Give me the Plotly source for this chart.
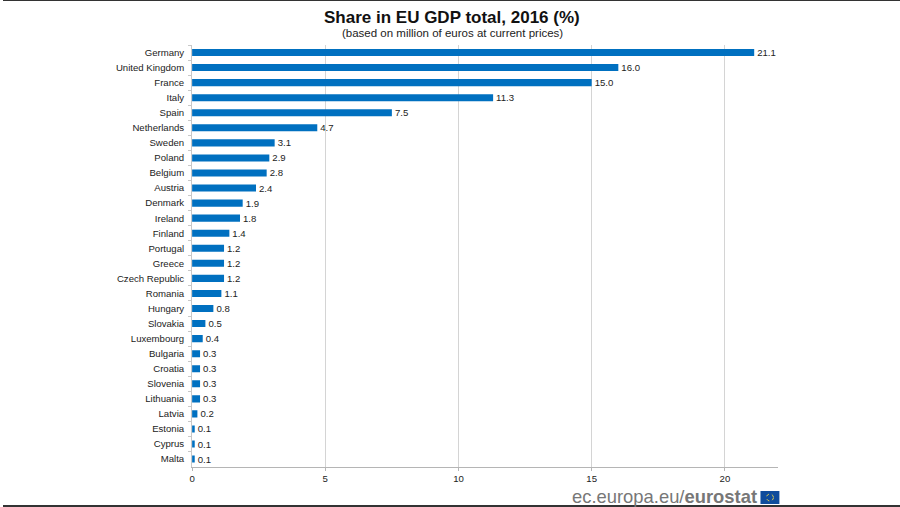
import plotly.graph_objects as go

countries = ["Germany","United Kingdom","France","Italy","Spain","Netherlands","Sweden","Poland","Belgium","Austria","Denmark","Ireland","Finland","Portugal","Greece","Czech Republic","Romania","Hungary","Slovakia","Luxembourg","Bulgaria","Croatia","Slovenia","Lithuania","Latvia","Estonia","Cyprus","Malta"]
shares = [21.1,16.0,15.0,11.3,7.5,4.7,3.1,2.9,2.8,2.4,1.9,1.8,1.4,1.2,1.2,1.2,1.1,0.8,0.5,0.4,0.3,0.3,0.3,0.3,0.2,0.1,0.1,0.1]
labels = [f"{v:.1f}" for v in shares]
ticks = [0,5,10,15,20]

fig = go.Figure(go.Bar(y=countries, x=shares, orientation="h",
    marker=dict(color="#0070c0", line=dict(width=8, color="rgba(0,0,0,0)")),
    width=0.47, text=labels, textposition="outside", cliponaxis=False, constraintext="none",
    textfont=dict(family="Liberation Sans", size=9.6, color="#222222")))
fig.update_layout(width=900, height=507, margin=dict(l=0,r=0,t=0,b=0), paper_bgcolor="white", plot_bgcolor="white",
    showlegend=False, font=dict(family="Liberation Sans", color="#222222", size=9.6),
    xaxis=dict(domain=[189.7/900, 777.5/900], range=[0,21.99], tickvals=ticks, gridcolor="#d4d4d4", gridwidth=1,
        showline=True, linecolor="#b5b5b5", ticks="outside", ticklen=3, tickcolor="#b5b5b5", zeroline=False),
    yaxis=dict(domain=[1-466.6/507, 1-45/507], autorange="reversed", categoryorder="array", categoryarray=countries,
        tickmode="array", tickvals=countries, showline=True, linecolor="#c8c8c8", ticks="outside", tickson="boundaries",
        ticklen=3, tickcolor="#c8c8c8", ticklabelstandoff=5, showgrid=False),
    annotations=[
        dict(text="<b>Share in EU GDP total, 2016 (%)</b>", x=451/900, y=1-18/507, xref="paper", yref="paper", xanchor="center", yanchor="middle", showarrow=False, font=dict(size=17, color="#111111")),
        dict(text="(based on million of euros at current prices)", x=451/900, y=1-33/507, xref="paper", yref="paper", xanchor="center", yanchor="middle", showarrow=False, font=dict(size=11.5, color="#222222")),
        dict(text="ec.europa.eu/<b>eurostat</b>", x=759/900, y=1-496/507, xref="paper", yref="paper", xanchor="right", yanchor="middle", showarrow=False, font=dict(size=18.4, color="#777777")),
    ],
    shapes=[
        dict(type="rect", xref="paper", yref="paper", x0=760/900, x1=779/900, y0=1-504/507, y1=1-491/507, fillcolor="#0f4c9c", line_width=0),
        dict(type="circle", xref="paper", yref="paper", x0=766/900, x1=773/900, y0=1-501/507, y1=1-494/507, line=dict(color="#d8c850", width=1, dash="dot")),
        dict(type="rect", xref="paper", yref="paper", x0=0, x1=1, y0=1-1/507, y1=1, fillcolor="#333333", line_width=0),
        dict(type="rect", xref="paper", yref="paper", x0=0, x1=1, y0=0, y1=2/507, fillcolor="#333333", line_width=0),
    ])
fig.write_html("out.html", post_script="document.body.style.margin='0';", config=dict(displayModeBar=False))
